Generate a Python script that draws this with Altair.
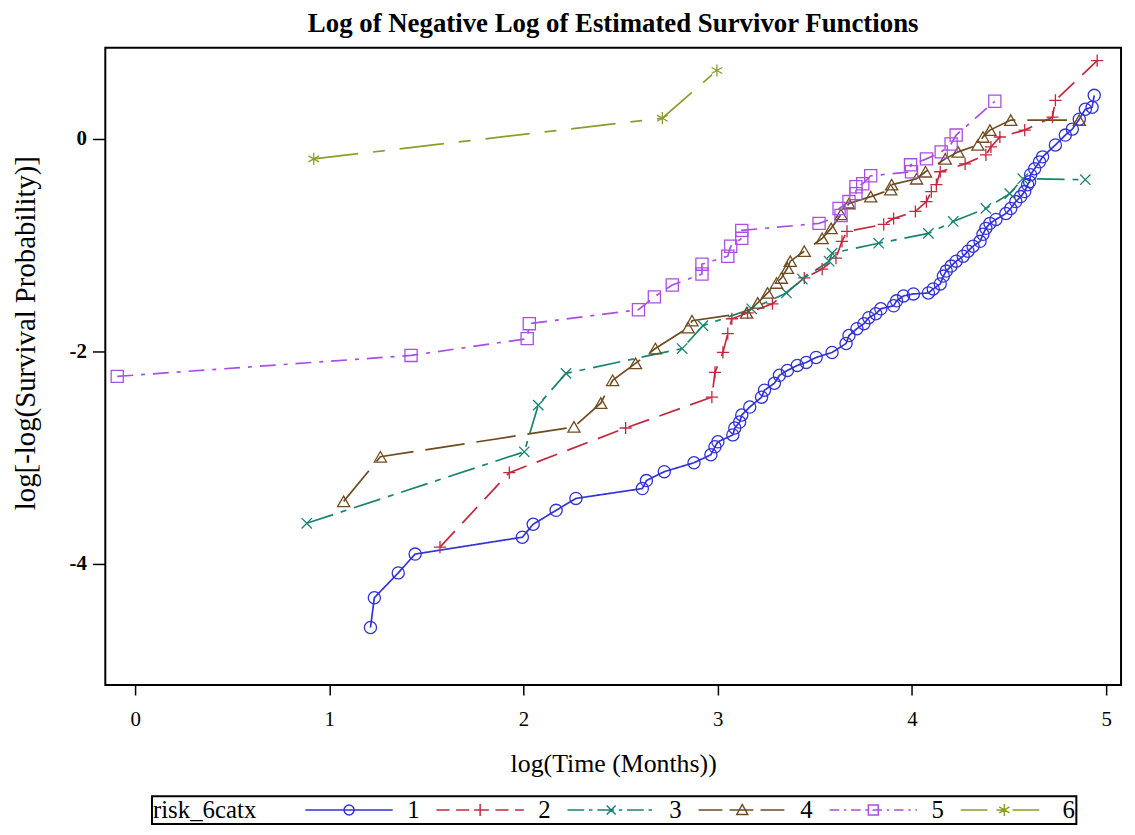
import altair as alt
import pandas as pd

SERIF = "Liberation Serif"

series_ids = ["1", "2", "3", "4", "5", "6"]
colors = ["#3232D6", "#C3283E", "#198371", "#6E4C22", "#AA4FE4", "#8D9C2D"]

s1_x = [1.212, 1.232, 1.355, 1.442, 1.994, 2.050, 2.168, 2.270, 2.612, 2.633, 2.725, 2.878, 2.965, 2.986,
        3.001, 3.078, 3.088, 3.113, 3.124, 3.165, 3.226, 3.241, 3.292, 3.318, 3.359, 3.410, 3.456, 3.507,
        3.589, 3.661, 3.676, 3.717, 3.753, 3.778, 3.814, 3.840, 3.906, 3.921, 3.957, 4.008, 4.085, 4.110,
        4.146, 4.162, 4.177, 4.202, 4.228, 4.264, 4.289, 4.315, 4.351, 4.366, 4.381, 4.402, 4.433, 4.484,
        4.509, 4.535, 4.560, 4.581, 4.596, 4.606, 4.611, 4.632, 4.657, 4.673, 4.739, 4.790, 4.826, 4.862,
        4.893, 4.928, 4.939]
s1_y = [-4.598, -4.318, -4.084, -3.907, -3.748, -3.626, -3.495, -3.383, -3.290, -3.215, -3.131, -3.047,
        -2.972, -2.897, -2.850, -2.785, -2.720, -2.664, -2.598, -2.523, -2.430, -2.364, -2.299, -2.224,
        -2.178, -2.131, -2.103, -2.056, -2.009, -1.925, -1.850, -1.785, -1.738, -1.682, -1.645, -1.598,
        -1.570, -1.523, -1.477, -1.458, -1.449, -1.411, -1.364, -1.290, -1.243, -1.196, -1.150, -1.103,
        -1.056, -1.009, -0.963, -0.897, -0.841, -0.794, -0.757, -0.701, -0.654, -0.589, -0.542, -0.495,
        -0.430, -0.402, -0.336, -0.280, -0.215, -0.168, -0.056, 0.037, 0.093, 0.187, 0.280, 0.299, 0.411]

s2_x = [1.570, 1.927, 2.526, 2.970, 2.986, 3.027, 3.052, 3.073, 3.154, 3.282, 3.446, 3.538, 3.609, 3.640,
        3.666, 3.855, 3.906, 4.018, 4.075, 4.100, 4.126, 4.146, 4.274, 4.381, 4.407, 4.453, 4.581, 4.724,
        4.739, 4.954]
s2_y = [-3.841, -3.140, -2.720, -2.430, -2.196, -2.009, -1.832, -1.692, -1.636, -1.551, -1.308, -1.224,
        -1.121, -0.963, -0.869, -0.804, -0.748, -0.682, -0.589, -0.495, -0.430, -0.308, -0.234, -0.150,
        -0.075, 0.019, 0.084, 0.206, 0.364, 0.738]

s3_x = [0.884, 2.004, 2.076, 2.219, 2.817, 2.924, 3.175, 3.354, 3.436, 3.574, 3.589, 3.829, 4.085, 4.213,
        4.381, 4.504, 4.571, 4.893]
s3_y = [-3.617, -2.944, -2.505, -2.206, -1.972, -1.757, -1.598, -1.449, -1.318, -1.150, -1.075, -0.981,
        -0.888, -0.776, -0.654, -0.514, -0.374, -0.383]

s4_x = [1.074, 1.263, 2.260, 2.398, 2.459, 2.577, 2.679, 2.848, 2.868, 3.149, 3.206, 3.257, 3.303, 3.328,
        3.359, 3.374, 3.446, 3.538, 3.584, 3.635, 3.676, 3.788, 3.891, 3.896, 4.024, 4.070, 4.172, 4.238,
        4.340, 4.366, 4.402, 4.509, 4.862]
s4_y = [-3.411, -2.991, -2.710, -2.486, -2.271, -2.112, -1.972, -1.776, -1.710, -1.636, -1.542, -1.449,
        -1.355, -1.308, -1.215, -1.150, -1.056, -0.935, -0.841, -0.710, -0.607, -0.542, -0.477, -0.430,
        -0.374, -0.308, -0.187, -0.121, -0.056, 0.019, 0.084, 0.178, 0.178]

s5_x = [-0.092, 1.421, 2.019, 2.030, 2.592, 2.674, 2.766, 2.919, 2.919, 3.052, 3.067, 3.124, 3.124, 3.522,
        3.635, 3.625, 3.676, 3.712, 3.712, 3.747, 3.788, 3.998, 3.993, 4.075, 4.151, 4.202, 4.228, 4.427]
s5_y = [-2.234, -2.037, -1.879, -1.738, -1.607, -1.486, -1.374, -1.271, -1.178, -1.103, -1.009, -0.935,
        -0.860, -0.794, -0.720, -0.654, -0.589, -0.514, -0.449, -0.421, -0.346, -0.308, -0.243, -0.187,
        -0.121, -0.047, 0.037, 0.355]

s6_x = [0.920, 2.715, 2.996]
s6_y = [-0.187, 0.196, 0.645]

x_ticks = [0, 1, 2, 3, 4, 5]
y_ticks = [0, -2, -4]

all_x = [s1_x, s2_x, s3_x, s4_x, s5_x, s6_x]
all_y = [s1_y, s2_y, s3_y, s4_y, s5_y, s6_y]

rows = []
for sid, xs, ys in zip(series_ids, all_x, all_y):
    for i, (xv, yv) in enumerate(zip(xs, ys)):
        rows.append({"series": sid, "logt": xv, "lls": yv, "ord": i})
df = pd.DataFrame(rows)

# line dash patterns (px)
dashes = [[1, 0], [22, 11], [28, 8, 6, 8], [40, 12], [16, 8, 4, 8], [45, 15, 12, 15]]

# plot markers
marker_shapes = [
    "circle",
    "M-1,0L1,0M0,-1L0,1",
    "M-0.85,-0.85L0.85,0.85M-0.85,0.85L0.85,-0.85",
    "triangle-up",
    "square",
    "M0,-1L0,1M-0.87,-0.5L0.87,0.5M-0.87,0.5L0.87,-0.5",
]

# legend symbols: a short line in the series' dash pattern with the marker in the middle
legend_markers = [
    "M-0.5,0A0.5,0.5 0 1,0 0.5,0A0.5,0.5 0 1,0 -0.5,0Z",
    "M-0.6,0L0.6,0M0,-0.6L0,0.6",
    "M-0.45,-0.45L0.45,0.45M-0.45,0.45L0.45,-0.45",
    "M0,-0.55L0.55,0.45L-0.55,0.45Z",
    "M-0.5,-0.5L0.5,-0.5L0.5,0.5L-0.5,0.5Z",
    "M0,-0.6L0,0.6M-0.52,-0.3L0.52,0.3M-0.52,0.3L0.52,-0.3",
]
UNIT = 10.0  # px per path unit with symbolSize 400
HALF = 4.4


def dashed_path(pattern):
    if pattern[1] == 0:
        return "M%.2f,0L%.2f,0" % (-HALF, HALF)
    segs = []
    pos = -HALF
    i = 0
    on = True
    pat = [p / UNIT for p in pattern]
    while pos < HALF:
        ln = pat[i % len(pat)]
        end = min(pos + ln, HALF)
        if on:
            segs.append("M%.2f,0L%.2f,0" % (pos, end))
        pos = end
        on = not on
        i += 1
    return "".join(segs)


legend_shapes = [dashed_path([d * 0.6 for d in dp]) + mk for dp, mk in zip(dashes, legend_markers)]

x_scale = alt.Scale(domain=[-0.1534, 5.077], nice=False, zero=False)
y_scale = alt.Scale(domain=[-5.140, 0.860], nice=False, zero=False)

x_axis = alt.Axis(values=x_ticks, labelExpr="'' + datum.value", grid=False, domain=False, tickSize=10,
                  tickWidth=1.5, tickColor="black", labelFont=SERIF, labelFontSize=21, labelColor="black",
                  labelPadding=14, titleFont=SERIF, titleFontSize=26, titleFontWeight="normal",
                  titleColor="black", titleY=79, titleBaseline="middle")
y_axis = alt.Axis(values=y_ticks, labelExpr="'' + datum.value", grid=False, domain=False, tickSize=13,
                  tickWidth=1.5, tickColor="black", labelFont=SERIF, labelFontSize=21,
                  labelFontWeight="bold", labelColor="black", labelPadding=6, titleFont=SERIF,
                  titleFontSize=29, titleFontWeight="normal", titleColor="black", titleX=-80, titleY=287,
                  titleBaseline="middle")

color_scale = alt.Scale(domain=series_ids, range=colors)

base = alt.Chart(df)

lines = base.mark_line(strokeWidth=1.7).encode(
    x=alt.X("logt:Q", scale=x_scale, axis=x_axis, title="log(Time (Months))"),
    y=alt.Y("lls:Q", scale=y_scale, axis=y_axis, title="log[-log(Survival Probability)]"),
    color=alt.Color("series:N", scale=color_scale, legend=None),
    strokeDash=alt.StrokeDash("series:N", scale=alt.Scale(domain=series_ids, range=dashes), legend=None),
    order="ord:Q",
)

points = base.mark_point(filled=False, size=150, strokeWidth=1.3, opacity=1).encode(
    x=alt.X("logt:Q", scale=x_scale),
    y=alt.Y("lls:Q", scale=y_scale),
    color=alt.Color("series:N", scale=color_scale, legend=None),
    shape=alt.Shape("series:N", scale=alt.Scale(domain=series_ids, range=marker_shapes), legend=None),
)

legend_kw = dict(
    title="risk_6catx", orient="none", legendX=47, legendY=754, direction="horizontal",
    titleOrient="left", titleFont=SERIF, titleFontSize=25, titleFontWeight="normal",
    titleColor="black", titlePadding=47, labelFont=SERIF, labelFontSize=25, labelColor="black",
    symbolSize=400, symbolStrokeWidth=1.5, symbolOffset=33, labelOffset=46, columnPadding=13,
    padding=1, strokeColor="black", fillColor="white",
)

legend_layer = base.transform_filter("false").mark_point(filled=False, opacity=1).encode(
    x=alt.X("logt:Q", scale=x_scale),
    y=alt.Y("lls:Q", scale=y_scale),
    color=alt.Color("series:N", scale=color_scale, legend=alt.Legend(**legend_kw)),
    shape=alt.Shape("series:N", scale=alt.Scale(domain=series_ids, range=legend_shapes),
                    legend=alt.Legend(**legend_kw)),
)

chart = alt.layer(lines, points, legend_layer).resolve_scale(
    color="independent", shape="independent"
).properties(
    width=1023, height=642,
    title=alt.Title("Log of Negative Log of Estimated Survivor Functions", font=SERIF, fontSize=27,
                    fontWeight="bold", color="black", anchor="middle", frame="group", offset=10),
    autosize=alt.AutoSizeParams(type="none"),
    padding={"left": 98, "top": 37, "right": 6, "bottom": 140},
).configure_view(stroke="black", strokeWidth=2).configure_legend(strokeWidth=2)

chart.save("out.html", embed_options={"renderer": "svg", "actions": False})
